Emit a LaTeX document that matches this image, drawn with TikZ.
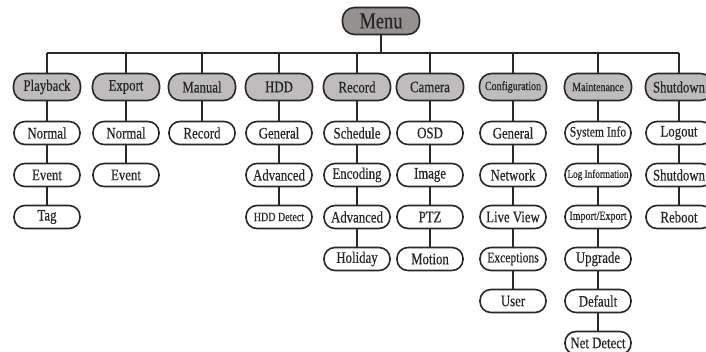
\documentclass[tikz,border=0pt]{standalone}
\usepackage{fontspec}
\setmainfont{Liberation Serif}[FakeStretch=0.8, FakeBold=0.4]
\usetikzlibrary{shapes}
\definecolor{topgray}{RGB}{190,188,188}
\definecolor{menugray}{RGB}{150,145,145}
\definecolor{edgegray}{RGB}{40,40,40}
\tikzstyle{link} = [draw, edgegray, line width=1.1pt]
\tikzstyle{item} = [rectangle, rounded corners=11pt, draw=edgegray, line width=1.6pt, fill=white, text=black!85, minimum width=66pt, minimum height=23pt, inner sep=1pt, node distance=42pt, font=\fontsize{16}{17}\selectfont]
\tikzstyle{group} = [item, rounded corners=12pt, fill=topgray, minimum width=67pt, minimum height=27pt]
\tikzstyle{root} = [item, rounded corners=12pt, fill=menugray, minimum width=77pt, minimum height=27pt, font=\fontsize{23}{24}\selectfont]
\tikzstyle{tiny} = [font=\fontsize{12.5}{13}\selectfont]
\tikzstyle{mid} = [font=\fontsize{14.5}{15}\selectfont]

\begin{document}
\begin{tikzpicture}[x=1pt, y=-1pt]
		\useasboundingbox (0,0) rectangle (706,352);
		
		\node [root] (menu) at (381,21) {Menu};
		\coordinate (bus) at (381,53);
		
		\node [group] (playback) at (47,87) {Playback};
		\node [group] (export) at (126,87) {Export};
		\node [group] (manual) at (202,87) {Manual};
		\node [group] (hdd) at (279,87) {HDD};
		\node [group] (record) at (357,87) {Record};
		\node [group] (camera) at (430,87) {Camera};
		\node [group, tiny] (config) at (513,87) {Configuration};
		\node [group, tiny] (maint) at (598,87) {Maintenance};
		\node [group] (shutdown) at (679,87) {Shutdown};
		
		% bus from the menu
		\path [link] (menu.south) -- (bus);
		\path [link] (playback |- bus) -- (shutdown |- bus);
		\path [link] (playback |- bus) -- (playback.north);
		\path [link] (export |- bus) -- (export.north);
		\path [link] (manual |- bus) -- (manual.north);
		\path [link] (hdd |- bus) -- (hdd.north);
		\path [link] (record |- bus) -- (record.north);
		\path [link] (camera |- bus) -- (camera.north);
		\path [link] (config |- bus) -- (config.north);
		\path [link] (maint |- bus) -- (maint.north);
		\path [link] (shutdown |- bus) -- (shutdown.north);
		
		% Playback
		\node [item, below of = playback, node distance = 46pt] (pbNormal) {Normal};
		\node [item, below of = pbNormal] (pbEvent) {Event};
		\node [item, below of = pbEvent] (pbTag) {Tag};
		\path [link] (playback) -- (pbNormal) -- (pbEvent) -- (pbTag);
		
		% Export
		\node [item, below of = export, node distance = 46pt] (exNormal) {Normal};
		\node [item, below of = exNormal] (exEvent) {Event};
		\path [link] (export) -- (exNormal) -- (exEvent);
		
		% Manual
		\node [item, below of = manual, node distance = 46pt] (maRecord) {Record};
		\path [link] (manual) -- (maRecord);
		
		% HDD
		\node [item, below of = hdd, node distance = 46pt] (hdGeneral) {General};
		\node [item, below of = hdGeneral] (hdAdvanced) {Advanced};
		\node [item, tiny, below of = hdAdvanced] (hdDetect) {HDD Detect};
		\path [link] (hdd) -- (hdGeneral) -- (hdAdvanced) -- (hdDetect);
		
		% Record
		\node [item, below of = record, node distance = 46pt] (reSchedule) {Schedule};
		\node [item, below of = reSchedule] (reEncoding) {Encoding};
		\node [item, below of = reEncoding] (reAdvanced) {Advanced};
		\node [item, below of = reAdvanced] (reHoliday) {Holiday};
		\path [link] (record) -- (reSchedule) -- (reEncoding) -- (reAdvanced) -- (reHoliday);
		
		% Camera
		\node [item, below of = camera, node distance = 46pt] (caOSD) {OSD};
		\node [item, below of = caOSD] (caImage) {Image};
		\node [item, below of = caImage] (caPTZ) {PTZ};
		\node [item, below of = caPTZ] (caMotion) {Motion};
		\path [link] (camera) -- (caOSD) -- (caImage) -- (caPTZ) -- (caMotion);
		
		% Configuration
		\node [item, below of = config, node distance = 46pt] (coGeneral) {General};
		\node [item, below of = coGeneral] (coNetwork) {Network};
		\node [item, below of = coNetwork] (coLive) {Live View};
		\node [item, mid, below of = coLive] (coExceptions) {Exceptions};
		\node [item, below of = coExceptions] (coUser) {User};
		\path [link] (config) -- (coGeneral) -- (coNetwork) -- (coLive) -- (coExceptions) -- (coUser);
		
		% Maintenance
		\node [item, mid, below of = maint, node distance = 46pt] (mtInfo) {System Info};
		\node [item, tiny, font=\fontsize{11.5}{12}\selectfont, below of = mtInfo] (mtLog) {Log Information};
		\node [item, tiny, below of = mtLog] (mtImport) {Import/Export};
		\node [item, below of = mtImport] (mtUpgrade) {Upgrade};
		\node [item, below of = mtUpgrade] (mtDefault) {Default};
		\node [item, below of = mtDefault] (mtNet) {Net Detect};
		\path [link] (maint) -- (mtInfo) -- (mtLog) -- (mtImport) -- (mtUpgrade) -- (mtDefault) -- (mtNet);
		
		% Shutdown
		\node [item, below of = shutdown, node distance = 46pt] (shLogout) {Logout};
		\node [item, below of = shLogout] (shShutdown) {Shutdown};
		\node [item, below of = shShutdown] (shReboot) {Reboot};
		\path [link] (shutdown) -- (shLogout) -- (shShutdown) -- (shReboot);
\end{tikzpicture}
\end{document}
